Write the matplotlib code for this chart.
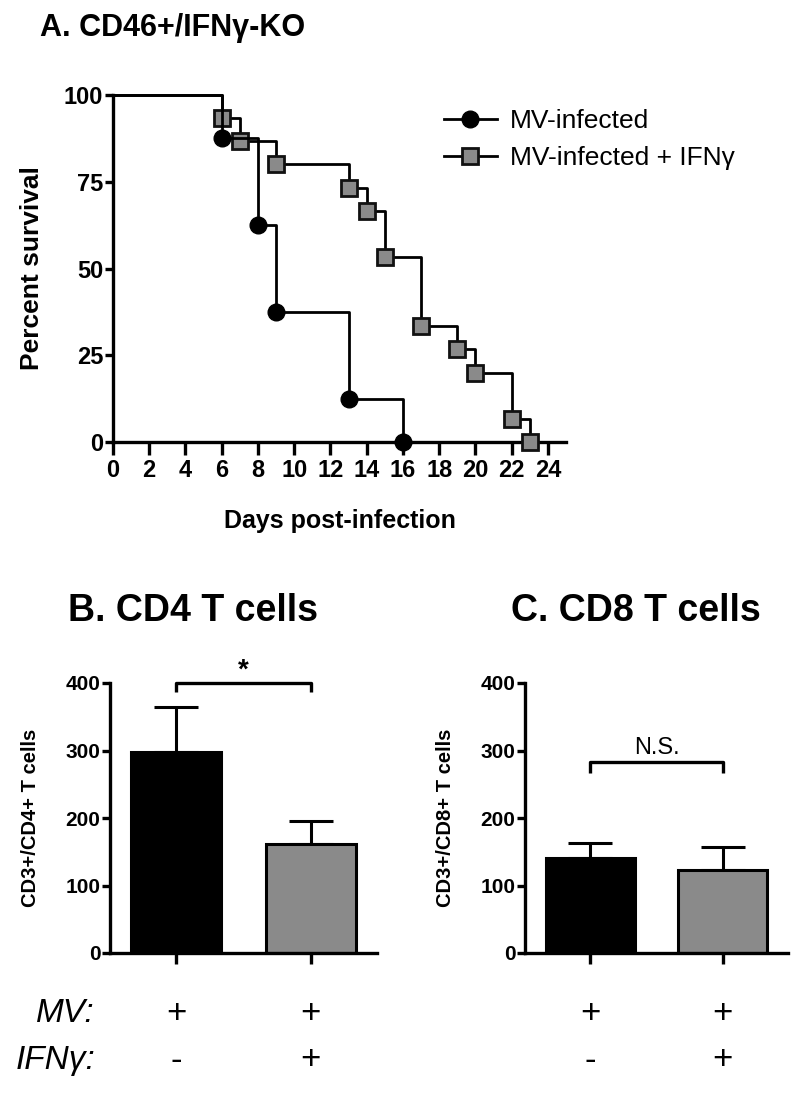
import numpy as np
import matplotlib
matplotlib.use("Agg")
import matplotlib.pyplot as plt
import matplotlib.transforms as mtransforms

plt.rcParams['font.family'] = ['Liberation Sans', 'DejaVu Sans']

# survival data (days, percent survival)
mv_days = [0, 6, 8, 9, 13, 16]
mv_surv = [100, 87.5, 62.5, 37.5, 12.5, 0]
ifn_days = [0, 6, 7, 9, 13, 14, 15, 17, 19, 20, 22, 23]
ifn_surv = [100, 93.3, 86.7, 80, 73.3, 66.7, 53.3, 33.3, 26.7, 20, 6.7, 0]
legend_labels = ['MV-infected', 'MV-infected + IFNγ']

# T cell counts
groups = [0, 1]
cd4_mean = [298, 161]
cd4_err = [67, 35]
cd8_mean = [141, 123]
cd8_err = [22, 34]
mv_signs = ['+', '+']
ifn_signs = ['-', '+']

BLACK = '#000000'
GRAY = '#8a8a8a'
W, H = 794, 1093

fig = plt.figure(figsize=(W / 100, H / 100), dpi=100)


def box(x0, x1, ytop, ybot):
    return [x0 / W, 1 - ybot / H, (x1 - x0) / W, (ybot - ytop) / H]


def style(ax, fs):
    for s in ['top', 'right']:
        ax.spines[s].set_visible(False)
    for s in ['left', 'bottom']:
        ax.spines[s].set_linewidth(2.4)
    ax.tick_params(width=2.4, labelsize=fs)
    for lab in ax.get_yticklabels() + ax.get_xticklabels():
        lab.set_fontweight('bold')


# ---- A: survival ----
ax = fig.add_axes(box(113, 566, 95, 442))
ax.plot(mv_days, mv_surv, drawstyle='steps-post', color=BLACK, lw=2.0,
        marker='o', ms=12, mfc=BLACK, mec=BLACK, markevery=slice(1, None),
        clip_on=False, zorder=4, label=legend_labels[0])
ax.plot(ifn_days, ifn_surv, drawstyle='steps-post', color=BLACK, lw=2.0,
        marker='s', ms=12, mfc=GRAY, mec='#111111', mew=2.0,
        markevery=slice(1, None), clip_on=False, zorder=3,
        label=legend_labels[1])
ax.set_xlim(0, 25)
ax.set_ylim(0, 100)
ax.set_xticks(np.arange(0, 25, 2))
ax.set_yticks([0, 25, 50, 75, 100])
style(ax, 17)
ax.tick_params(axis='x', length=9, pad=3)
ax.tick_params(axis='y', length=6, pad=1)
for lab in ax.get_yticklabels() + ax.get_xticklabels():
    lab.set_fontweight('bold')
ax.set_xlabel('Days post-infection', fontsize=18, fontweight='bold', labelpad=20)
ax.set_ylabel('Percent survival', fontsize=19, fontweight='bold', labelpad=14)
leg = ax.legend(loc='upper left', bbox_to_anchor=(444 / W, 1 - 109 / H),
                bbox_transform=fig.transFigure, frameon=False, fontsize=19,
                handlelength=2.0, handletextpad=0.5, labelspacing=0.5,
                borderpad=0, borderaxespad=0)
fig.text(40 / W, 1 - 28 / H, 'A. CD46+/IFNγ-KO', fontsize=22,
         fontweight='bold', va='center', ha='left')


# ---- B and C: bar charts ----
def bars(axbox, means, errs, ylabel, title, title_x):
    bx = fig.add_axes(axbox)
    bx.bar(groups, means, width=0.67, color=[BLACK, GRAY], edgecolor=BLACK,
           linewidth=2.2, zorder=2)
    bx.errorbar(groups, means, yerr=[[0, 0], errs], fmt='none', ecolor=BLACK,
                elinewidth=2.2, capsize=16, capthick=2.2, zorder=1)
    bx.set_xlim(-0.49, 1.49)
    bx.set_ylim(0, 400)
    bx.set_yticks([0, 100, 200, 300, 400])
    bx.set_xticks(groups)
    bx.set_xticklabels([])
    style(bx, 15)
    bx.tick_params(axis='y', length=6, pad=1)
    bx.tick_params(axis='x', length=8)
    bx.set_ylabel(ylabel, fontsize=14.5, fontweight='bold', labelpad=18)
    fig.text(title_x / W, 1 - 611 / H, title, fontsize=27, fontweight='bold',
             ha='center', va='center')
    # condition rows under the bars
    tr = mtransforms.blended_transform_factory(bx.transData, fig.transFigure)
    for g, s in zip(groups, mv_signs):
        bx.text(g, 1 - 1013 / H, s, transform=tr, fontsize=25, ha='center',
                va='center', clip_on=False)
    for g, s in zip(groups, ifn_signs):
        bx.text(g, 1 - 1060 / H, s, transform=tr, fontsize=25, ha='center',
                va='center', clip_on=False)
    return bx


bB = bars(box(110, 377, 683, 953), cd4_mean, cd4_err,
          'CD3+/CD4+ T cells', 'B. CD4 T cells', 193)
bB.plot([0, 0, 1, 1], [387, 400, 400, 387], color=BLACK, lw=2.4,
        clip_on=False, solid_capstyle='butt')
bB.text(0.5, 418, '*', fontsize=20, fontweight='bold', ha='center',
        va='center', clip_on=False)

bC = bars(box(525, 788, 683, 953), cd8_mean, cd8_err,
          'CD3+/CD8+ T cells', 'C. CD8 T cells', 636)
bC.plot([0, 0, 1, 1], [267, 283, 283, 267], color=BLACK, lw=2.4,
        clip_on=False, solid_capstyle='butt')
bC.text(0.5, 304, 'N.S.', fontsize=17, ha='center', va='center')

fig.text(95 / W, 1 - 1013 / H, 'MV:', fontsize=24, style='italic',
         ha='right', va='center')
fig.text(95 / W, 1 - 1060 / H, 'IFNγ:', fontsize=24, style='italic',
         ha='right', va='center')

fig.savefig('out.png', dpi=100)
